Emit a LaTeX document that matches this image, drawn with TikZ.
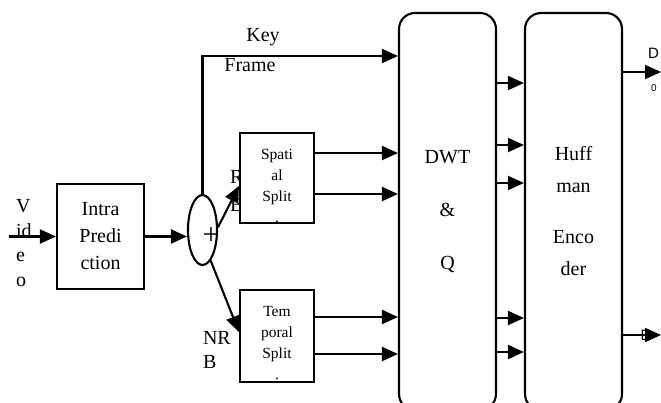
\documentclass[tikz,border=0pt]{standalone}
\usepackage{fontspec}
\setmainfont{Liberation Serif}
\newfontfamily\labfont{Liberation Sans}
\usetikzlibrary{arrows.meta,shapes.geometric}

\begin{document}
\begin{tikzpicture}[x=1pt,y=-1pt,line width=2.1pt,
  arr/.style={-{Triangle[length=16pt,width=14pt]}},
  blk/.style={draw,fill=white,align=center,inner sep=0pt},
  bigbox/.style={blk,rounded corners=16pt,minimum width=97pt,minimum height=397pt},
  txt/.style={align=center,inner sep=0pt,font=\fontsize{20}{27}\selectfont},
  smalltxt/.style={align=center,inner sep=0pt,font=\fontsize{15.5}{21}\selectfont},
  labtxt/.style={inner sep=0pt,font=\labfont\fontsize{15}{15}\selectfont}]
\useasboundingbox (0,0) rectangle (661,402);

\node[txt,align=left,anchor=west,font=\fontsize{20}{24.5}\selectfont] (video) at (15,243) {V\\id\\e\\o};
\node[txt] (key) at (263,37) {Key};
\node[txt] (frame) at (250,65) {Frame};
\node[txt,align=left,anchor=west,font=\fontsize{20}{28}\selectfont] (rb) at (229,191) {R\\B};
\node[txt,align=left,anchor=west,font=\fontsize{20}{24}\selectfont] (nrb) at (202,350) {NR\\B};
\node[labtxt,anchor=east] (d0) at (660,53) {D};
\node[labtxt,font=\labfont\fontsize{10}{10}\selectfont] (zero) at (654,88) {0};
\node[labtxt] (d1) at (646,335) {D};

\node[blk,minimum width=87pt,minimum height=105pt,font=\fontsize{20}{27}\selectfont] (intra) at (100.5,236.5) {Intra\\Predi\\ction};
\node[draw,ellipse,minimum width=29pt,minimum height=70pt,inner sep=0pt] (sum) at (202.5,230) {};
\node[inner sep=0pt,font=\fontsize{30}{30}\selectfont] (plus) at (211,236) {+};

\node[blk,minimum width=74pt,minimum height=90pt] (spatial) at (277,178) {};
\node[smalltxt] (spatialtxt) at (277,186) {Spati\\al\\Split\\.};
\node[blk,minimum width=74pt,minimum height=92pt] (temporal) at (277,336) {};
\node[smalltxt] (temporaltxt) at (277,343) {Tem\\poral\\Split\\.};

\node[bigbox,font=\fontsize{20}{53}\selectfont] (dwt) at (447.5,211.5) {DWT\\\&\\Q};
\node[bigbox,font=\fontsize{20}{32}\selectfont] (huff) at (573.5,211.5) {Huff\\man\\[19pt]Enco\\der};

\coordinate (vin) at (9,236.5);
\draw[arr] (vin) -- (intra.west);
\draw[arr] (intra.east) -- (intra.east -| sum.west);
\draw[arr] (sum.north) |- (dwt.west |- 0,56);
\draw[arr] (sum.10) -- (spatial.west |- 0,186);
\draw[arr] (sum.-75) -- (temporal.west |- 0,332);
\foreach \y in {153,194}
  \draw[arr] (spatial.east |- 0,\y) -- (dwt.west |- 0,\y);
\foreach \y in {317,354}
  \draw[arr] (temporal.east |- 0,\y) -- (dwt.west |- 0,\y);
\foreach \y in {83,145,183,318,352}
  \draw[arr] (dwt.east |- 0,\y) -- (huff.west |- 0,\y);
\coordinate (out0) at (661,72);
\coordinate (out1) at (661,335);
\draw[arr] (huff.east |- out0) -- (out0);
\draw[arr] (huff.east |- out1) -- (out1);
\end{tikzpicture}
\end{document}
